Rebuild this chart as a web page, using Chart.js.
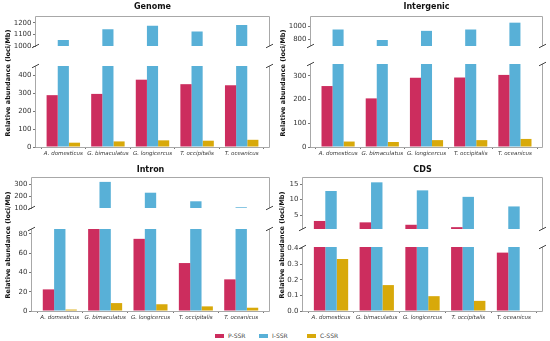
<!DOCTYPE html>
<html>
<head>
<meta charset="utf-8">
<script src="https://cdn.jsdelivr.net/npm/chart.js@4.4.1/dist/chart.umd.min.js"></script>
<style>
  html, body { margin: 0; padding: 0; background: #fff; }
  #wrap { position: relative; width: 550px; height: 341px; overflow: hidden; font-family: "DejaVu Sans", sans-serif; }
  #wrap canvas { position: absolute; left: 0; top: 0; }
  .key { position: absolute; top: 332px; font-size: 6px; line-height: 7px; color: #444; white-space: nowrap; }
  .key i { position: absolute; left: -13px; top: 1.5px; width: 9px; height: 4px; }
</style>
</head>
<body>
<div id="wrap">
  <div class="key" style="left:228px"><i style="background:#cc2d5e"></i>P-SSR</div>
  <div class="key" style="left:272px"><i style="background:#58b0d7"></i>I-SSR</div>
  <div class="key" style="left:320px"><i style="background:#d8a90a"></i>C-SSR</div>
</div>
<script>
// species on the x axis
const species = ["A. domesticus", "G. bimaculatus", "G. longicercus", "T. occipitalis", "T. oceanicus"];

// relative abundance (loci/Mb)
const genomeP = [288, 295, 374, 349, 343];
const genomeI = [1052, 1144, 1175, 1124, 1181];
const genomeC = [24, 31, 37, 35, 40];

const intergenicP = [257, 205, 292, 293, 304];
const intergenicI = [956, 793, 935, 956, 1062];
const intergenicC = [23, 21, 29, 29, 34];

const intronP = [22.4, 90, 74.8, 49.7, 32.8];
const intronI = [90, 322, 230, 157, 106];
const intronC = [1.5, 8.2, 7.0, 4.8, 3.4];

const cdsP = [3.1, 2.65, 1.87, 1.1, 0.374];
const cdsI = [12.8, 15.6, 13.0, 10.9, 7.8];
const cdsC = [0.333, 0.166, 0.095, 0.065, 0.003];

// tick labels of the broken y axes
const genomeUpperTicks = [1000, 1100, 1200];
const genomeLowerTicks = [0, 100, 200, 300, 400];
const intergenicUpperTicks = [800, 1000];
const intergenicLowerTicks = [0, 100, 200, 300];
const intronUpperTicks = [100, 200, 300];
const intronLowerTicks = [0, 20, 40, 60, 80];
const cdsUpperTicks = [5, 10, 15];
const cdsLowerTicks = [0, 0.1, 0.2, 0.3, 0.4];

const W = 550, H = 341, YW = 30, XH = 11;
const FONT = "'DejaVu Sans', sans-serif";
const colors = { p: "#cc2d5e", i: "#58b0d7", c: "#d8a90a" };

const panels = [
  { title: "Genome", P: genomeP, I: genomeI, C: genomeC, left: 36, right: 269,
    upper: [17, 57], lower: [66, 147], upperRange: [1000, 1250], lowerRange: [0, 450],
    upperTicks: genomeUpperTicks, lowerTicks: genomeLowerTicks, decimals: 0,
    titleY: 7, yTitleX: 8.5, yTitleY: 83 },
  { title: "Intergenic", P: intergenicP, I: intergenicI, C: intergenicC, left: 311, right: 542,
    upper: [17, 57], lower: [64, 147], upperRange: [700, 1150], lowerRange: [0, 350],
    upperTicks: intergenicUpperTicks, lowerTicks: intergenicLowerTicks, decimals: 0,
    titleY: 7, yTitleX: 283, yTitleY: 83 },
  { title: "Intron", P: intronP, I: intronI, C: intronC, left: 32, right: 269,
    upper: [178, 219], lower: [229, 311], upperRange: [100, 355], lowerRange: [0, 85],
    upperTicks: intronUpperTicks, lowerTicks: intronLowerTicks, decimals: 0,
    titleY: 169.5, yTitleX: 8, yTitleY: 245 },
  { title: "CDS", P: cdsP, I: cdsI, C: cdsC, left: 303, right: 542,
    upper: [178, 240], lower: [247, 311], upperRange: [0.5, 17], lowerRange: [0, 0.41],
    upperTicks: cdsUpperTicks, lowerTicks: cdsLowerTicks, decimals: 1, upperDecimals: 0,
    titleY: 169.5, yTitleX: 282.5, yTitleY: 245 },
];

// spines, break marks and panel titles
const decor = {
  id: "decor",
  afterDraw(chart, args, o) {
    const { ctx, chartArea: a } = chart;
    const L = a.left - 0.5, R = a.right + 0.5, T = a.top - 0.5, B = a.bottom + 0.5;
    ctx.save();
    ctx.strokeStyle = "#a8a8a8";
    ctx.lineWidth = 1;
    ctx.beginPath();
    if (o.upper) {
      ctx.moveTo(L, a.bottom); ctx.lineTo(L, T); ctx.lineTo(R, T); ctx.lineTo(R, a.bottom);
    } else {
      ctx.moveTo(L, a.top); ctx.lineTo(L, B); ctx.lineTo(R, B); ctx.lineTo(R, a.top);
    }
    ctx.stroke();

    const y = o.upper ? a.bottom : a.top;
    ctx.strokeStyle = "#444";
    ctx.beginPath();
    [L, R].forEach((x) => {
      ctx.moveTo(x - 3.5, y + 1.8);
      ctx.lineTo(x + 3.5, y - 1.8);
    });
    ctx.stroke();

    ctx.fillStyle = "#111";
    if (o.title) {
      ctx.font = "bold 8px " + FONT;
      ctx.textAlign = "center";
      ctx.textBaseline = "middle";
      ctx.fillText(o.title, (a.left + a.right) / 2, o.titleY);
    }
    if (o.yTitle) {
      ctx.translate(o.yTitleX, o.yTitleY);
      ctx.rotate(-Math.PI / 2);
      ctx.font = "bold 6.5px " + FONT;
      ctx.textAlign = "center";
      ctx.textBaseline = "middle";
      ctx.fillText(o.yTitle, 0, 0);
    }
    ctx.restore();
  },
};

function addCanvas() {
  const c = document.createElement("canvas");
  c.width = W;
  c.height = H;
  c.style.width = W + "px";
  c.style.height = H + "px";
  document.getElementById("wrap").appendChild(c);
  return c;
}

function series(label, values, color) {
  return {
    label: label,
    data: values.map((v, i) => ({ x: i, y: v })),
    backgroundColor: color,
    borderWidth: 0,
    clip: 0, // cut the bars at the edge of each half of the broken axis
  };
}

function drawPart(p, upper) {
  const [top, bottom] = upper ? p.upper : p.lower;
  const [yMin, yMax] = upper ? p.upperRange : p.lowerRange;
  const yTicks = upper ? p.upperTicks : p.lowerTicks;
  const dec = upper && p.upperDecimals !== undefined ? p.upperDecimals : p.decimals;

  new Chart(addCanvas(), {
    type: "bar",
    data: {
      datasets: [
        series("P-SSR", p.P, colors.p),
        series("I-SSR", p.I, colors.i),
        series("C-SSR", p.C, colors.c),
      ],
    },
    options: {
      responsive: false,
      animation: false,
      devicePixelRatio: 1,
      categoryPercentage: 0.75,
      barPercentage: 1,
      layout: {
        padding: {
          left: p.left - YW,
          right: W - p.right,
          top: top,
          bottom: H - bottom - (upper ? 0 : XH),
        },
      },
      plugins: {
        legend: { display: false },
        tooltip: { enabled: false },
        decor: {
          upper: upper,
          title: upper ? p.title : null,
          titleY: p.titleY,
          yTitle: upper ? null : "Relative abundance (loci/Mb)",
          yTitleX: p.yTitleX,
          yTitleY: p.yTitleY,
        },
      },
      scales: {
        x: {
          type: "linear",
          offset: false,
          min: -0.6125,
          max: 4.6125,
          display: !upper,
          afterBuildTicks: (s) => { s.ticks = species.map((_, i) => ({ value: i })); },
          afterFit: (s) => { s.height = XH; },
          grid: { display: true, drawOnChartArea: false, drawTicks: true, tickLength: 2, color: "#777" },
          border: { display: false },
          ticks: {
            padding: 1,
            maxRotation: 0,
            autoSkip: false,
            color: "#333",
            font: { family: FONT, size: 5.5, style: "italic" },
            callback: (v) => species[v],
          },
        },
        y: {
          min: yMin,
          max: yMax,
          afterBuildTicks: (s) => { s.ticks = yTicks.map((v) => ({ value: v })); },
          afterFit: (s) => { s.width = YW; },
          grid: { display: true, drawOnChartArea: false, drawTicks: true, tickLength: 3, color: "#777" },
          border: { display: false },
          ticks: {
            padding: 1.5,
            color: "#333",
            font: { family: FONT, size: 7 },
            callback: (v) => v.toFixed(dec),
          },
        },
      },
    },
    plugins: [decor],
  });
}

panels.forEach((p) => {
  drawPart(p, true);
  drawPart(p, false);
});
</script>
</body>
</html>
